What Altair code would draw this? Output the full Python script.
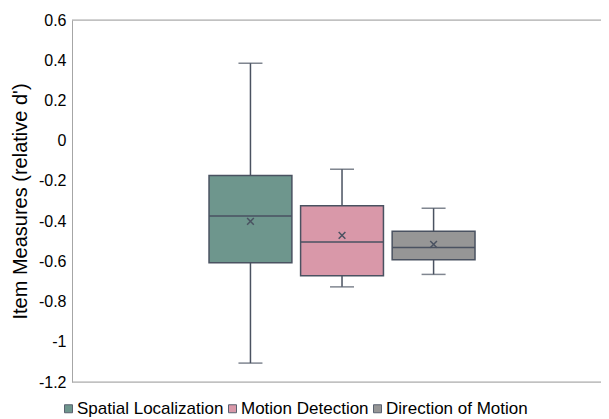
import altair as alt
import pandas as pd

series = ["Spatial Localization", "Motion Detection", "Direction of Motion"]
colors = ["#6e968d", "#d998a9", "#969696"]
whisker_max = [0.385, -0.142, -0.336]
q3 = [-0.173, -0.324, -0.451]
median = [-0.374, -0.504, -0.531]
mean = [-0.401, -0.471, -0.516]
q1 = [-0.607, -0.672, -0.592]
whisker_min = [-1.106, -0.727, -0.665]
y_ticks = [-1.2, -1.0, -0.8, -0.6, -0.4, -0.2, 0.0, 0.2, 0.4, 0.6]

df = pd.DataFrame({
    "group": ["all"] * len(series),
    "series": series,
    "wmax": whisker_max,
    "q3": q3,
    "median": median,
    "mean": mean,
    "q1": q1,
    "wmin": whisker_min,
})
frame_df = pd.DataFrame({"edge": [y_ticks[0], y_ticks[-1]]})

DARK = "#4a5261"
FRAME = "#a6a6a6"
FONT = "Liberation Sans"

xenc = alt.X(
    "group:N",
    scale=alt.Scale(paddingInner=0, paddingOuter=0.4944, align=0.521),
    axis=alt.Axis(labels=False, ticks=False, title=None, domain=False, grid=False),
)
xoff = alt.XOffset(
    "series:N",
    sort=series,
    scale=alt.Scale(domain=series, paddingInner=0.095, paddingOuter=0),
)
yscale = alt.Scale(domain=[y_ticks[0], y_ticks[-1]], nice=False, zero=False)
yaxis = alt.Axis(
    values=y_ticks,
    labelExpr="toString(round(datum.value*10)/10)",
    ticks=False,
    grid=False,
    domain=True,
    domainColor=FRAME,
    domainWidth=1,
    labelFontSize=16,
    labelColor="#000000",
    labelFont=FONT,
    labelPadding=6,
    title="Item Measures (relative d')",
    titleFontSize=20,
    titleFontWeight="normal",
    titleFont=FONT,
    titleColor="#000000",
    titlePadding=8,
)

base = alt.Chart(df)

frame = alt.Chart(frame_df).mark_rule(color=FRAME, strokeWidth=1).encode(
    y=alt.Y("edge:Q", scale=yscale, axis=yaxis)
)
whisk_up = base.mark_rule(color=DARK, strokeWidth=1.5).encode(
    x=xenc, xOffset=xoff, y=alt.Y("q3:Q", scale=yscale), y2="wmax:Q"
)
whisk_dn = base.mark_rule(color=DARK, strokeWidth=1.5).encode(
    x=xenc, xOffset=xoff, y=alt.Y("wmin:Q", scale=yscale), y2="q1:Q"
)
cap_top = base.mark_tick(color=DARK, size=24, thickness=1.5).encode(
    x=xenc, xOffset=xoff, y=alt.Y("wmax:Q", scale=yscale)
)
cap_bot = base.mark_tick(color=DARK, size=24, thickness=1.5).encode(
    x=xenc, xOffset=xoff, y=alt.Y("wmin:Q", scale=yscale)
)
boxes = base.mark_bar(stroke=DARK, strokeWidth=1.5).encode(
    x=xenc,
    xOffset=xoff,
    y=alt.Y("q1:Q", scale=yscale),
    y2="q3:Q",
    color=alt.Color(
        "series:N",
        sort=series,
        scale=alt.Scale(domain=series, range=colors),
        legend=alt.Legend(
            orient="none",
            legendX=-12,
            legendY=380,
            direction="horizontal",
            title=None,
            labelFontSize=17,
            labelFont=FONT,
            labelColor="#000000",
            symbolType="square",
            symbolSize=64,
            symbolStrokeColor="#5a6270",
            symbolStrokeWidth=1,
            symbolOpacity=1,
            labelOffset=0,
            columnPadding=0,
            padding=0,
        ),
    ),
)
med = base.mark_bar(stroke=DARK, strokeWidth=1.5, fillOpacity=0).encode(
    x=xenc, xOffset=xoff, y=alt.Y("median:Q", scale=yscale), y2="median:Q"
)
mean_pt = base.mark_point(
    shape="M-1,-1L1,1M1,-1L-1,1", color=DARK, size=45, strokeWidth=1.5, filled=False, opacity=1
).encode(x=xenc, xOffset=xoff, y=alt.Y("mean:Q", scale=yscale))

chart = (
    alt.layer(frame, whisk_up, whisk_dn, cap_top, cap_bot, boxes, med, mean_pt)
    .properties(
        width=529,
        height=362,
        autosize="none",
        padding={"left": 64, "top": 12, "right": 0, "bottom": 37},
    )
    .configure_view(stroke=None)
    .configure(background="#ffffff")
)

chart.save("out.html", embed_options={"renderer": "svg", "actions": False})
